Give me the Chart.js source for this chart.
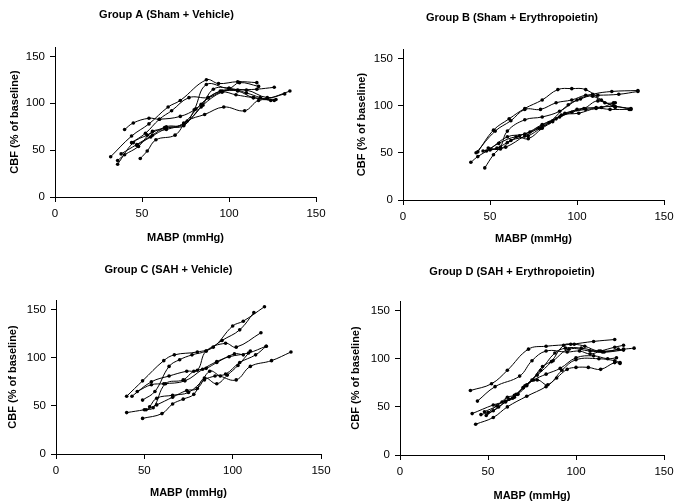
<!DOCTYPE html>
<html>
<head>
<meta charset="utf-8">
<script src="https://cdn.jsdelivr.net/npm/chart.js@4"></script>
<style>
  body { margin: 0; background: #fff; }
  #wrap { position: relative; width: 675px; height: 503px; }
  .panel { position: absolute; }
</style>
</head>
<body>
<div id="wrap">
  <div class="panel" style="left:0;top:0;width:333px;height:250px"><canvas id="chartA"></canvas></div>
  <div class="panel" style="left:349px;top:0;width:326px;height:250px"><canvas id="chartB"></canvas></div>
  <div class="panel" style="left:0;top:250px;width:337px;height:253px"><canvas id="chartC"></canvas></div>
  <div class="panel" style="left:349px;top:250px;width:326px;height:253px"><canvas id="chartD"></canvas></div>
</div>
<script>
// axis ticks
const xTicks = [0, 50, 100, 150];
const yTicks = [0, 50, 100, 150];

// Group A (Sham + Vehicle): one row per animal
const mabpA = [
  [32, 44, 54, 65, 72, 87, 94, 105, 116],
  [40, 45, 54, 60, 72, 81, 88, 96, 110, 122, 132],
  [36, 45, 53, 63, 74, 80, 87, 100, 106, 117],
  [36, 40, 48, 56, 64, 74, 84, 95, 105, 114, 127],
  [49, 53, 58, 69, 76, 86, 97, 109, 117, 126],
  [38, 47, 56, 64, 74, 85, 96, 105, 116, 126],
  [44, 52, 60, 67, 77, 88, 96, 104, 114, 122, 135],
  [47, 55, 64, 74, 84, 91, 100, 110, 118, 124]
];
const cbfA = [
  [43, 65, 78, 96, 103, 125, 121, 123, 122],
  [72, 79, 84, 83, 86, 94, 106, 113, 114, 106, 110],
  [35, 58, 66, 74, 76, 93, 120, 116, 122, 118],
  [39, 45, 54, 70, 72, 79, 99, 113, 113, 106, 104],
  [41, 49, 61, 66, 81, 88, 96, 92, 103, 103],
  [46, 56, 66, 75, 77, 98, 112, 114, 115, 117],
  [58, 68, 83, 92, 106, 106, 112, 109, 106, 105, 113],
  [55, 64, 73, 78, 96, 115, 116, 111, 106, 103]
];

// Group B (Sham + Erythropoietin)
const mabpB = [
  [39, 43, 50, 60, 70, 80, 90, 100, 111, 122, 131],
  [47, 52, 56, 60, 70, 80, 90, 100, 109, 120, 135],
  [43, 52, 61, 70, 80, 89, 97, 105, 114, 121, 131],
  [42, 53, 62, 70, 79, 88, 97, 105, 112, 124, 135],
  [46, 54, 60, 67, 73, 80, 88, 97, 105, 114, 121],
  [49, 56, 62, 72, 79, 86, 93, 104, 112, 122],
  [50, 59, 70, 78, 84, 95, 102, 109, 116, 122],
  [48, 55, 65, 72, 80, 86, 91, 101, 111, 119, 130]
];
const cbfB = [
  [40, 46, 54, 67, 70, 80, 88, 96, 98, 99, 96],
  [34, 48, 56, 73, 85, 88, 94, 106, 112, 115, 116],
  [51, 74, 86, 97, 106, 117, 118, 117, 106, 100, 97],
  [50, 73, 84, 96, 96, 103, 106, 111, 111, 112, 115],
  [52, 55, 61, 68, 72, 79, 86, 93, 96, 98, 103],
  [55, 54, 63, 68, 76, 84, 92, 97, 105, 98],
  [53, 56, 68, 76, 82, 101, 107, 110, 103, 103],
  [52, 60, 67, 65, 76, 83, 90, 92, 97, 96, 96]
];

// Group C (SAH + Vehicle)
const mabpC = [
  [40, 49, 61, 67, 80, 89, 100, 106, 118],
  [49, 56, 64, 70, 77, 85, 94, 104, 112],
  [43, 54, 64, 74, 80, 85, 96, 102, 116],
  [46, 54, 61, 73, 83, 91, 98, 109, 119],
  [40, 50, 55, 62, 72, 78, 85, 91, 101, 106],
  [49, 60, 66, 72, 78, 84, 91, 97, 103, 110],
  [51, 57, 66, 74, 80, 87, 93, 102, 110, 122, 133],
  [53, 57, 66, 75, 84, 90, 96, 104, 113, 119]
];
const cbfC = [
  [60, 76, 97, 103, 106, 111, 133, 138, 153],
  [56, 65, 91, 98, 103, 107, 118, 129, 147],
  [60, 75, 81, 86, 87, 107, 115, 111, 126],
  [65, 72, 73, 76, 88, 96, 101, 105, 112],
  [43, 46, 48, 73, 77, 86, 89, 95, 104, 103],
  [37, 42, 52, 57, 62, 79, 73, 82, 92, 107],
  [46, 51, 59, 66, 68, 86, 81, 77, 91, 97, 106],
  [49, 58, 61, 64, 77, 81, 83, 95, 103, 112]
];

// Group D (SAH + Erythropoietin)
const mabpD = [
  [40, 52, 61, 73, 83, 97, 110, 122],
  [44, 54, 68, 75, 83, 95, 102, 108, 114, 122, 127],
  [41, 53, 60, 66, 72, 80, 88, 94, 103, 115, 127],
  [43, 53, 61, 72, 83, 89, 95, 100, 107, 114, 122, 125],
  [46, 53, 60, 65, 70, 78, 86, 93, 99, 105, 113, 127, 133],
  [49, 56, 62, 67, 72, 76, 83, 91, 100, 110, 118, 123],
  [48, 55, 61, 65, 70, 75, 81, 87, 96, 108, 116, 124],
  [50, 58, 64, 71, 78, 84, 92, 100, 113, 122, 125]
];
const cbfD = [
  [67, 74, 88, 110, 113, 115, 118, 120],
  [56, 71, 82, 98, 108, 107, 108, 105, 108, 112, 114],
  [43, 52, 56, 63, 73, 88, 106, 111, 111, 107, 109],
  [32, 39, 50, 61, 71, 80, 89, 91, 91, 89, 96, 95],
  [42, 46, 55, 60, 70, 83, 97, 114, 115, 113, 108, 110, 111],
  [41, 50, 58, 63, 72, 78, 84, 90, 101, 103, 100, 101],
  [45, 51, 60, 62, 70, 78, 92, 98, 110, 108, 107, 110],
  [44, 55, 59, 72, 78, 73, 88, 99, 100, 98, 96]
];

const fontFamily = '"Liberation Sans", Arial, sans-serif';

function makeChart(id, title, xs, ys, box) {
  const ctx = document.getElementById(id).getContext('2d');
  const datasets = xs.map((row, i) => ({
    data: row.map((x, j) => ({ x: x, y: ys[i][j] })),
    showLine: true,
    tension: 0.4,
    borderColor: '#000',
    borderWidth: 1,
    pointRadius: 1.8,
    pointBackgroundColor: '#000',
    pointBorderWidth: 0
  }));

  return new Chart(ctx, {
    type: 'scatter',
    data: { datasets: datasets },
    options: {
      responsive: true,
      maintainAspectRatio: false,
      animation: false,
      layout: { padding: 0 },
      plugins: {
        legend: { display: false },
        tooltip: { enabled: false },
        title: {
          display: true,
          text: title,
          color: '#000',
          font: { family: fontFamily, size: 11, weight: 'bold' },
          padding: { top: box.titleY - 6.6, bottom: box.top - box.titleY - 6.6 }
        }
      },
      scales: {
        x: {
          type: 'linear',
          min: 0,
          max: 150,
          afterBuildTicks: s => { s.ticks = xTicks.map(v => ({ value: v })); },
          afterFit: s => {
            s.height = box.h - box.bottom;
            s.paddingRight = box.w - box.right; // keep the title centred on the whole panel
          },
          grid: { drawOnChartArea: false, drawTicks: true, tickLength: 5, color: '#000' },
          border: { color: '#000', width: 1 },
          ticks: { color: '#000', padding: 5, font: { family: fontFamily, size: 11.5 } },
          title: {
            display: true,
            text: 'MABP (mmHg)',
            color: '#000',
            font: { family: fontFamily, size: 11, weight: 'bold' },
            padding: { top: 0, bottom: box.h - box.xTitleY - 6.6 }
          }
        },
        y: {
          type: 'linear',
          min: 0,
          max: 160,
          afterBuildTicks: s => { s.ticks = yTicks.map(v => ({ value: v })); },
          afterFit: s => { s.width = box.left; },
          grid: { drawOnChartArea: false, drawTicks: true, tickLength: 5, color: '#000' },
          border: { color: '#000', width: 1 },
          ticks: { color: '#000', padding: 5, font: { family: fontFamily, size: 11.5 } },
          title: {
            display: true,
            text: 'CBF (% of baseline)',
            color: '#000',
            font: { family: fontFamily, size: 11, weight: 'bold' },
            padding: { top: Math.max(box.yTitleX - 6.6, 0), bottom: 0 }
          }
        }
      }
    }
  });
}

makeChart('chartA', 'Group A (Sham + Vehicle)', mabpA, cbfA,
  { w: 333, h: 250, left: 55, right: 316, top: 47, bottom: 197, titleY: 15, yTitleX: 15, xTitleY: 238 });
makeChart('chartB', 'Group B (Sham + Erythropoietin)', mabpB, cbfB,
  { w: 326, h: 250, left: 54, right: 315, top: 49, bottom: 200, titleY: 18, yTitleX: 13, xTitleY: 239 });
makeChart('chartC', 'Group C (SAH + Vehicle)', mabpC, cbfC,
  { w: 337, h: 253, left: 56, right: 321, top: 50, bottom: 204, titleY: 20, yTitleX: 13, xTitleY: 243 });
makeChart('chartD', 'Group D (SAH + Erythropoietin)', mabpD, cbfD,
  { w: 326, h: 253, left: 51, right: 315, top: 51, bottom: 205, titleY: 22, yTitleX: 7, xTitleY: 246 });
</script>
</body>
</html>
